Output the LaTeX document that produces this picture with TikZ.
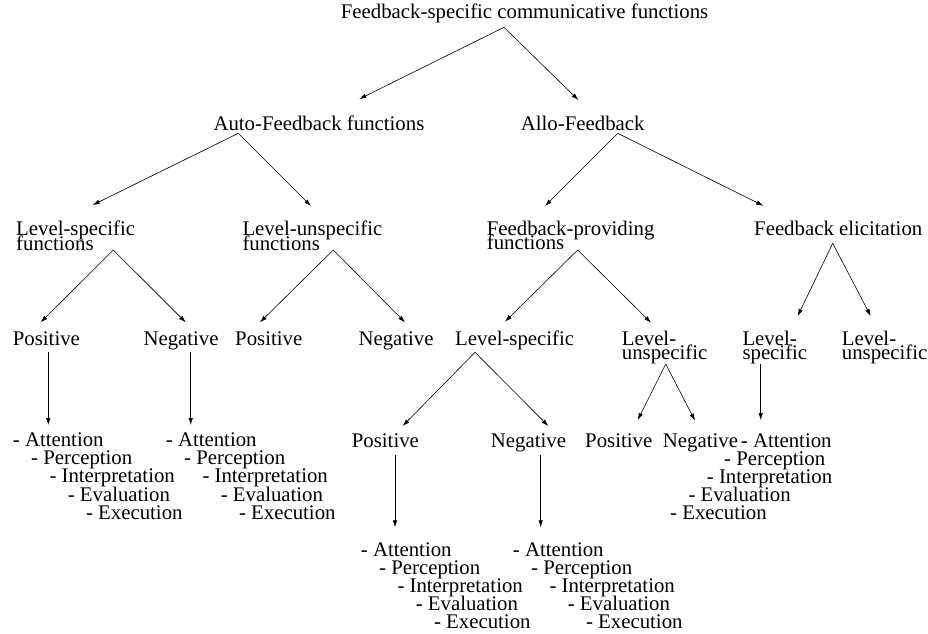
\documentclass[tikz,border=0pt]{standalone}
\usepackage{fontspec}
\setmainfont{Liberation Serif}
\usetikzlibrary{arrows.meta,calc}

\newcommand{\diafont}{\fontsize{20.8}{18.1}\selectfont\lineskiplimit=-30pt\relax}
\newcommand{\pairfont}{\fontsize{20.8}{14.6}\selectfont\lineskiplimit=-30pt\relax}
% the five levels, stepped to the right
\newcommand{\steplist}{- Attention\\\hspace*{18.3pt}- Perception\\\hspace*{36.6pt}- Interpretation\\\hspace*{54.9pt}- Evaluation\\\hspace*{73.2pt}- Execution}
% the same, stepped to the left
\newcommand{\steplistrev}{\hspace*{70.7pt}- Attention\\\hspace*{54pt}- Perception\\\hspace*{36.7pt}- Interpretation\\\hspace*{18.3pt}- Evaluation\\- Execution}

\begin{document}
\begin{tikzpicture}[
        x=1pt, y=-1pt, % pixel-like units, y downwards
        fn/.style={inner sep=0pt, anchor=base west, font=\diafont},
        two/.style={fn, align=left, font=\pairfont}, % base = last line
        steps/.style={fn, align=left},
        arr/.style={draw, line width=0.6pt, -{Latex[length=7pt,width=4.5pt]}},
    ]
    \useasboundingbox (0,0) rectangle (928,633);

    \node[fn] (root) at (340.7,18.3) {Feedback-specific communicative functions};
    \node[fn] (auto) at (213.3,130) {Auto-Feedback functions};
    \node[fn] (allo) at (520.7,130) {Allo-Feedback};

    \node[two] (lsf) at (16,250.3) {Level-specific\\functions};
    \node[two] (luf) at (242.3,250.3) {Level-unspecific\\functions};
    \node[two] (fpf) at (486.7,249.6) {Feedback-providing\\functions};
    \node[fn] (fel) at (754,235) {Feedback elicitation};

    \node[fn] (apos) at (12.7,345) {Positive};
    \node[fn] (aneg) at (143.3,345) {Negative};
    \node[fn] (upos) at (235,345) {Positive};
    \node[fn] (uneg) at (358.3,345) {Negative};
    \node[fn] (pls) at (455,345) {Level-specific};
    \node[two] (plu) at (621.7,359.6) {Level-\\unspecific};
    \node[two] (els) at (742.3,359.6) {Level-\\specific};
    \node[two] (elu) at (841.7,359.6) {Level-\\unspecific};

    \node[steps] (alist) at (12.7,519.1) {\steplist};
    \node[steps] (nlist) at (165.7,519.1) {\steplist};
    \node[fn] (ppos) at (351.7,447.7) {Positive};
    \node[fn] (pneg) at (490.7,447.7) {Negative};
    \node[fn] (upos2) at (585,447.3) {Positive};
    \node[fn] (uneg2) at (662.7,447.3) {Negative};
    \node[steps] (elist) at (670,519.7) {\steplistrev};

    \node[steps] (plist) at (360.7,628.4) {\steplist};
    \node[steps] (nlist2) at (512.7,628.4) {\steplist};

    % connectors
    \draw[arr] ($(root.base west)+(163.3,9)$) -- ($(auto.base west)+(146,-31)$);
    \draw[arr] ($(root.base west)+(163.3,9)$) -- ($(allo.base west)+(57.6,-30)$);
    \draw[arr] ($(auto.base west)+(25,3.3)$) -- ($(lsf.base west)+(76.7,-45.3)$);
    \draw[arr] ($(auto.base west)+(25,3.3)$) -- ($(luf.base west)+(68.7,-44.3)$);
    \draw[arr] ($(allo.base west)+(97,3.3)$) -- ($(fpf.base west)+(58.3,-43.6)$);
    \draw[arr] ($(allo.base west)+(97,3.3)$) -- ($(fel.base west)+(9.3,-29.3)$);

    \draw[arr] ($(lsf.base west)+(97.3,-0.3)$) -- ($(apos.base west)+(28,-22.7)$);
    \draw[arr] ($(lsf.base west)+(97.3,-0.3)$) -- ($(aneg.base west)+(42.4,-22.7)$);
    \draw[arr] ($(luf.base west)+(91,-0.3)$) -- ($(upos.base west)+(25,-22.7)$);
    \draw[arr] ($(luf.base west)+(91,-0.3)$) -- ($(uneg.base west)+(46.7,-22.7)$);
    \draw[arr] ($(fpf.base west)+(91,0.4)$) -- ($(pls.base west)+(50,-23.3)$);
    \draw[arr] ($(fpf.base west)+(91,0.4)$) -- ($(plu.base west)+(29.3,-36.9)$);
    \draw[arr] ($(fel.base west)+(78.7,8.3)$) -- ($(els.base west)+(55.4,-43.6)$);
    \draw[arr] ($(fel.base west)+(78.7,8.3)$) -- ($(elu.base west)+(29,-43.6)$);

    \draw[arr] ($(apos.base west)+(35.6,6.7)$) -- ($(alist.base west)+(35.6,-94.1)$);
    \draw[arr] ($(aneg.base west)+(47.4,6.7)$) -- ($(nlist.base west)+(25,-94.1)$);
    \draw[arr] ($(pls.base west)+(20,7.3)$) -- ($(ppos.base west)+(51,-21.7)$);
    \draw[arr] ($(pls.base west)+(20,7.3)$) -- ($(pneg.base west)+(57.6,-21.7)$);
    \draw[arr] ($(plu.base west)+(44,4.4)$) -- ($(upos2.base west)+(52.7,-27.3)$);
    \draw[arr] ($(plu.base west)+(44,4.4)$) -- ($(uneg2.base west)+(32.3,-26.6)$);
    \draw[arr] ($(els.base west)+(18.4,4.4)$) -- ($(elist.base west)+(90.7,-99.7)$);

    \draw[arr] ($(ppos.base west)+(43.3,7.3)$) -- ($(plist.base west)+(34.3,-101.1)$);
    \draw[arr] ($(pneg.base west)+(50,7.3)$) -- ($(nlist2.base west)+(28,-101.1)$);
\end{tikzpicture}
\end{document}
